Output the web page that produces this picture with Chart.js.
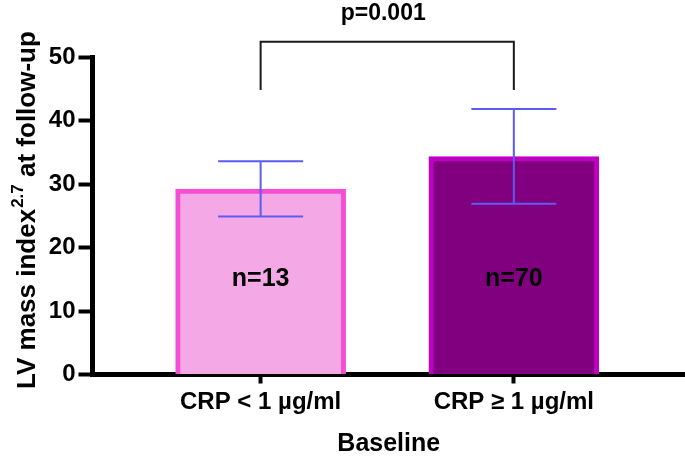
<!DOCTYPE html>
<html lang="en">
<head>
<meta charset="UTF-8">
<title>LV mass index at follow-up</title>
<script src="https://cdn.jsdelivr.net/npm/chart.js@4.4.1/dist/chart.umd.min.js"></script>
<style>
    html, body { margin: 0; padding: 0; background: #fff; }
</style>
</head>
<body>
<canvas id="chart" width="685" height="466"></canvas>

<script>
    // values
    var categories = ['CRP < 1 µg/ml', 'CRP ≥ 1 µg/ml'];
    var means = [29.2, 34.3];
    var errLow = [24.9, 26.9];
    var errHigh = [33.6, 41.8];
    var nLabels = ['n=13', 'n=70'];
    var nLabelAt = [15, 15];
    var yTicks = [0, 10, 20, 30, 40, 50];
    var pText = 'p=0.001';
    var bracketLow = 44.8;
    var bracketHigh = 52.4;
    var xTitle = 'Baseline';
    var yTitleParts = ['LV mass index', '2.7', ' at follow-up'];

    var FONT = "'Liberation Sans', Arial, sans-serif";

    // error bars, n labels, bracket, p value, y title
    var extras = {
        id: 'extras',
        afterDraw: function (chart) {
            var ctx = chart.ctx;
            var xs = chart.scales.x, ys = chart.scales.y;
            ctx.save();

            // error bars
            ctx.strokeStyle = '#5b5cf2';
            ctx.lineWidth = 2;
            for (var i = 0; i < means.length; i++) {
                var x = xs.getPixelForValue(i + 1);
                var y1 = ys.getPixelForValue(errHigh[i]);
                var y2 = ys.getPixelForValue(errLow[i]);
                ctx.beginPath();
                ctx.moveTo(x, y1); ctx.lineTo(x, y2);
                ctx.moveTo(x - 42.5, y1); ctx.lineTo(x + 42.5, y1);
                ctx.moveTo(x - 42.5, y2); ctx.lineTo(x + 42.5, y2);
                ctx.stroke();
            }

            // n labels
            ctx.fillStyle = '#000';
            ctx.font = 'bold 25px ' + FONT;
            ctx.textAlign = 'center';
            ctx.textBaseline = 'middle';
            for (var j = 0; j < nLabels.length; j++) {
                ctx.fillText(nLabels[j], xs.getPixelForValue(j + 1), ys.getPixelForValue(nLabelAt[j]));
            }

            // significance bracket
            var bx1 = xs.getPixelForValue(1), bx2 = xs.getPixelForValue(2);
            var byTop = ys.getPixelForValue(bracketHigh), byLow = ys.getPixelForValue(bracketLow);
            ctx.strokeStyle = '#1a1a1a';
            ctx.lineWidth = 2;
            ctx.beginPath();
            ctx.moveTo(bx1, byLow); ctx.lineTo(bx1, byTop);
            ctx.lineTo(bx2, byTop); ctx.lineTo(bx2, byLow);
            ctx.stroke();
            ctx.font = 'bold 23px ' + FONT;
            ctx.fillText(pText, (bx1 + bx2) / 2 - 4, byTop - 28);

            // y title with superscript
            ctx.translate(27, 389);
            ctx.rotate(-Math.PI / 2);
            ctx.textAlign = 'left';
            ctx.textBaseline = 'alphabetic';
            ctx.font = 'bold 26px ' + FONT;
            var base = 8;
            ctx.fillText(yTitleParts[0], 0, base);
            var w = ctx.measureText(yTitleParts[0]).width + 1;
            ctx.font = 'bold 17px ' + FONT;
            ctx.fillText(yTitleParts[1], w, base - 12);
            w += ctx.measureText(yTitleParts[1]).width;
            ctx.font = 'bold 26px ' + FONT;
            ctx.fillText(yTitleParts[2], w, base);

            ctx.restore();
        }
    };

    var chart = new Chart(document.getElementById('chart'), {
        type: 'bar',
        data: {
            datasets: [{
                data: means.map(function (v, i) { return { x: i + 1, y: v }; }),
                backgroundColor: ['#f5a8e6', '#800080'],
                borderColor: ['#f54ed4', '#c000c4'],
                borderWidth: 5,
                borderSkipped: 'start',
                barThickness: 170
            }]
        },
        options: {
            responsive: false,
            animation: false,
            layout: { padding: { top: 57, left: 0, right: 0, bottom: 0 } },
            plugins: {
                legend: { display: false },
                tooltip: { enabled: false }
            },
            scales: {
                x: {
                    type: 'linear',
                    min: 0.336,
                    max: 2.676,
                    offset: false,
                    z: 1,
                    afterBuildTicks: function (s) {
                        s.ticks = categories.map(function (c, i) { return { value: i + 1 }; });
                    },
                    afterFit: function (s) { s.height = 91.5; },
                    ticks: {
                        autoSkip: false,
                        maxRotation: 0,
                        padding: 4,
                        color: '#000',
                        font: { family: FONT, size: 24, weight: 'bold' },
                        callback: function (v) { return categories[v - 1]; }
                    },
                    grid: {
                        offset: false,
                        drawOnChartArea: false,
                        drawTicks: true,
                        tickLength: 9,
                        tickWidth: 4,
                        color: '#000'
                    },
                    border: { display: true, color: '#000', width: 5 },
                    title: {
                        display: true,
                        text: xTitle,
                        color: '#000',
                        font: { family: FONT, size: 25, weight: 'bold' },
                        padding: { top: 0, bottom: 7 }
                    }
                },
                y: {
                    min: 0,
                    max: 50,
                    z: 1,
                    afterBuildTicks: function (s) {
                        s.ticks = yTicks.map(function (v) { return { value: v }; });
                    },
                    afterFit: function (s) { s.width = 92.5; },
                    ticks: {
                        padding: 3,
                        color: '#000',
                        font: { family: FONT, size: 24, weight: 'bold' }
                    },
                    grid: {
                        drawOnChartArea: false,
                        drawTicks: true,
                        tickLength: 14,
                        tickWidth: 4,
                        color: '#000'
                    },
                    border: { display: true, color: '#000', width: 5 }
                }
            }
        },
        plugins: [extras]
    });
</script>
</body>
</html>
